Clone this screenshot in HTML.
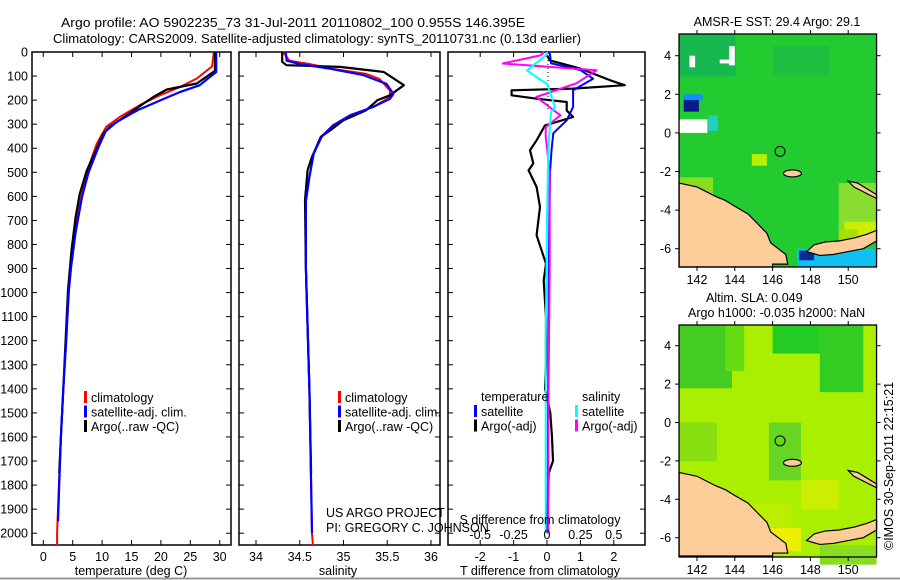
<!DOCTYPE html>
<html><head><meta charset="utf-8">
<style>
body{margin:0;background:#fff;}
svg{display:block;font-family:"Liberation Sans",sans-serif;}
text{fill:#000;}
</style></head>
<body>
<svg id="fig" width="900" height="580" viewBox="0 0 900 580" xmlns="http://www.w3.org/2000/svg">
<rect width="900" height="580" fill="#fff"/>
<line x1="0" y1="578.5" x2="900" y2="578.5" stroke="#999" stroke-width="2"/>
<text x="61" y="27" font-size="13" textLength="464" lengthAdjust="spacingAndGlyphs">Argo profile: AO 5902235_73 31-Jul-2011 20110802_100 0.955S 146.395E</text>
<text x="53" y="43" font-size="13" textLength="528" lengthAdjust="spacingAndGlyphs">Climatology: CARS2009. Satellite-adjusted climatology: synTS_20110731.nc (0.13d earlier)</text>
<g id="p1"></g>
<g id="p2"></g>
<g id="p3"></g>
<g id="m1"></g>
<g id="m2"></g>
<text x="326" y="517" font-size="12.5">US ARGO PROJECT</text>
<text x="326" y="532" font-size="12.5">PI: GREGORY C. JOHNSON</text>
<text x="777" y="26" font-size="12.5" text-anchor="middle">AMSR-E SST: 29.4  Argo: 29.1</text>
<text x="706" y="302" font-size="12.5">Altim. SLA: 0.049</text>
<text x="688" y="317" font-size="12.5">Argo h1000: -0.035 h2000: NaN</text>
<text x="0" y="0" font-size="12.5" transform="translate(893,550) rotate(-90)">©IMOS 30-Sep-2011  22:15:21</text>
</svg>
<script>
// ---- Temperature profiles (depth m, deg C) ----
const tClimDepth=[0,60,110,145,180,221,270,311,381,478,600,727,850,977,1200,1400,1600,1800,2000,2050];
const tClimVal=[29.0,28.7,26.1,23.3,19.8,16.4,13.0,10.7,9.1,7.7,6.5,5.4,4.9,4.4,3.9,3.4,3.0,2.65,2.35,2.35];
const tSatDepth=[0,83,138,166,200,240,290,330,400,500,600,750,900,1000,1200,1400,1600,1800,1950];
const tSatVal=[29.4,29.4,26.6,23.3,20.0,16.2,12.5,10.6,9.3,7.7,6.6,5.5,4.7,4.3,3.9,3.4,3.0,2.7,2.5];
const tArgoDepth=[0,78,131,156,187,215,263,311,339,401,492,589,686,825,990,1200,1400,1600,1750];
const tArgoVal=[29.2,29.2,26.1,21.0,18.7,17.0,14.2,11.3,10.2,9.1,7.4,6.2,5.5,4.8,4.2,3.8,3.4,3.0,2.7];
// ---- Salinity profiles ----
const sClimDepth=[0,36,50,70,91,112,160,188,228,263,305,353,422,520,620,900,1400,2000,2050];
const sClimVal=[34.31,34.38,34.61,34.87,35.26,35.41,35.53,35.53,35.34,35.07,34.88,34.74,34.66,34.61,34.57,34.57,34.61,34.64,34.65];
const sSatDepth=[0,36,50,70,95,132,174,195,228,263,305,353,422,520,620,900,1400,2000];
const sSatVal=[34.34,34.35,34.5,34.85,35.22,35.49,35.57,35.53,35.34,35.08,34.88,34.75,34.66,34.61,34.57,34.57,34.61,34.64];
const sArgoDepth=[0,41,55,62,83,138,180,200,242,284,325,353,436,491,616,900,1400,1750];
const sArgoVal=[34.30,34.30,34.35,34.96,35.46,35.69,35.53,35.39,35.26,35.0,34.85,34.74,34.64,34.59,34.56,34.57,34.61,34.63];
// ---- Differences ----
const dTArgoDepth=[0,14,35,69,118,138,152,159,180,194,208,243,270,305,367,408,463,492,561,644,762,880,950,1100,1300,1400,1500,1600,1700,1750,2000];
const dTArgoVal=[0,0,0.09,1.0,1.9,2.33,0.78,-1.06,-1.06,-0.31,0.59,0.59,0.78,-0.06,-0.31,-0.51,-0.41,-0.55,-0.31,-0.21,-0.31,-0.03,-0.1,-0.03,-0.03,-0.06,0.1,0.15,0.18,0.05,0];
const dTSatDepth=[0,10,47,75,111,159,228,284,338,400,500,700,1000,1500,2000];
const dTSatVal=[0.05,0.09,0.12,1.0,1.38,0.78,0.78,0.59,0.19,0.14,0.09,0.07,0.05,0.03,0.02];
const dSArgoDepth=[0,14,48,76,130,187,263,312,350,500,580,900,1500,2000];
const dSArgoVal=[-0.02,-0.05,-0.33,0.37,0.22,-0.08,0.1,-0.01,-0.01,0.02,0.02,0.02,0.01,0.01];
const dSSatDepth=[0,10,76,104,132,228,250,400,700,1200,2000];
const dSSatVal=[0.0,0.0,-0.15,-0.08,0,0.06,0.03,0.01,0,-0.01,-0.01];
const depthTicks=[0,100,200,300,400,500,600,700,800,900,1000,1100,1200,1300,1400,1500,1600,1700,1800,1900,2000];
const tTicks=[0,5,10,15,20,25,30];
const sTicks=[34,34.5,35,35.5,36];
const dTTicks=[-2,-1,0,1,2];
const dSTicks=[-0.5,-0.25,0,0.25,0.5];
const latTicks=[4,2,0,-2,-4,-6];
const lonTicks=[142,144,146,148,150];
const argoLon=146.395, argoLat=-0.955;

const NS="http://www.w3.org/2000/svg";
function mk(parent,tag,attrs,txt){const e=document.createElementNS(NS,tag);for(const k in attrs)e.setAttribute(k,attrs[k]);if(txt!==undefined)e.textContent=txt;parent.appendChild(e);return e;}
const TOP=52,BOT=545;
const yD=d=>TOP+d*0.2406;

function panel(g,x0,x1,xs,ticks,fmt,withY){
  mk(g,'rect',{x:x0,y:TOP,width:x1-x0,height:BOT-TOP,fill:'none',stroke:'#000','stroke-width':1.5});
  depthTicks.forEach(d=>{const y=yD(d);
    mk(g,'line',{x1:x0,x2:x0+5,y1:y,y2:y,stroke:'#000'});
    mk(g,'line',{x1:x1-5,x2:x1,y1:y,y2:y,stroke:'#000'});
    if(withY){const t=mk(g,'text',{x:x0-4,y:y+4.5,'font-size':12.5,'text-anchor':'end'},String(d));
      
      }
  });
  ticks.forEach(v=>{const x=xs(v);
    mk(g,'line',{x1:x,x2:x,y1:BOT-5,y2:BOT,stroke:'#000'});
    mk(g,'line',{x1:x,x2:x,y1:TOP,y2:TOP+5,stroke:'#000'});
    if(fmt){const t=mk(g,'text',{x:x,y:561,'font-size':12.5,'text-anchor':'middle'},fmt(v));
      
      }
  });
}
function line(g,xs,depths,vals,color,w,name){
  const pts=depths.map((d,i)=>xs(vals[i]).toFixed(1)+','+yD(d).toFixed(1)).join(' ');
  const p=mk(g,'polyline',{points:pts,fill:'none',stroke:color,'stroke-width':w,'stroke-linejoin':'round'});
  
  
}
function legend(g,x,y,items){
  items.forEach((it,i)=>{
    const r=mk(g,'rect',{x:x,y:y+i*14.5-6,width:3,height:12,fill:it[0]});
    
    
    const t=mk(g,'text',{x:x+7,y:y+i*14.5+5,'font-size':12.5},it[1]);
    
    
  });
}
// Panel 1
const g1=document.getElementById('p1');
const xT=v=>43.3+v*5.88;
panel(g1,32,231,xT,tTicks,v=>String(v),true);
line(g1,xT,tClimDepth,tClimVal,'#ff0000',2,'temp-climatology-line');
line(g1,xT,tArgoDepth,tArgoVal,'#000000',2.2,'temp-argo-line');
line(g1,xT,tSatDepth,tSatVal,'#0000ff',2.2,'temp-satellite-line');
{const t=mk(g1,'text',{x:131,y:575,'font-size':12.5,'text-anchor':'middle'},'temperature (deg C)');
}
legend(g1,84,397,[['#ff0000','climatology'],['#0000ff','satellite-adj. clim.'],['#000','Argo(..raw -QC)']]);
// Panel 2
const g2=document.getElementById('p2');
const xS=v=>256+(v-34)*87.5;
panel(g2,239,440,xS,sTicks,v=>String(v),false);
line(g2,xS,sClimDepth,sClimVal,'#ff0000',2,'sal-climatology-line');
line(g2,xS,sArgoDepth,sArgoVal,'#000000',2.2,'sal-argo-line');
line(g2,xS,sSatDepth,sSatVal,'#0000ff',2.2,'sal-satellite-line');
{const t=mk(g2,'text',{x:338,y:575,'font-size':12.5,'text-anchor':'middle'},'salinity');
}
legend(g2,338,397,[['#ff0000','climatology'],['#0000ff','satellite-adj. clim.'],['#000','Argo(..raw -QC)']]);
// Panel 3
const g3=document.getElementById('p3');
const xDT=v=>547+v*33.4;
const xDS=v=>547+v*133.6;
panel(g3,448,645,xDT,dTTicks,v=>String(v),false);
mk(g3,'line',{x1:548,x2:548,y1:TOP,y2:yD(250),stroke:'#000','stroke-dasharray':'1,3'});
line(g3,xDT,dTArgoDepth,dTArgoVal,'#000000',2.2,'t-diff-argo-line');
line(g3,xDT,dTSatDepth,dTSatVal,'#0000ff',2,'t-diff-satellite-line');
line(g3,xDS,dSArgoDepth,dSArgoVal,'#ff00ff',2,'s-diff-argo-line');
line(g3,xDS,dSSatDepth,dSSatVal,'#00ffff',2,'s-diff-satellite-line');
dSTicks.forEach(v=>{const t=mk(g3,'text',{x:xDS(v),y:539,'font-size':12.5,'text-anchor':'middle'},String(v));
});
{const t=mk(g3,'text',{x:540,y:524,'font-size':12.5,'text-anchor':'middle'},'S difference from climatology');
}
{const t=mk(g3,'text',{x:540,y:575,'font-size':12.5,'text-anchor':'middle'},'T difference from climatology');
}
{const t=mk(g3,'text',{x:481,y:401,'font-size':12.5},'temperature');
const t2=mk(g3,'text',{x:582,y:401,'font-size':12.5},'salinity');}
legend(g3,474,411,[['#0000ff','satellite'],['#000','Argo(-adj)']]);
legend(g3,575,411,[['#00ffff','satellite'],['#ff00ff','Argo(-adj)']]);

// Maps
const LON0=141.05,LON1=151.5;
function map(g,top,bot,lat4y,latm6y,base,patches,name){
  const pxLat=(lat4y-latm6y)/10; // negative
  const yL=la=>lat4y+(4-la)*(-pxLat)*(-1)*-1;
  const yLat=la=>lat4y+(4-la)*((latm6y-lat4y)/10);
  const xLon=lo=>697+(lo-142)*18.9;
  mk(g,'rect',{x:xLon(LON0),y:top,width:xLon(LON1)-xLon(LON0),height:bot-top,fill:base});
  patches.forEach(p=>{const r=mk(g,'rect',{x:xLon(p[0]),y:yLat(p[1]),width:p[2]*18.9,height:p[3]*19.3,fill:p[4]});
    });
  const land=[[141.05,-2.6],[142,-2.8],[143,-3.3],[143.5,-3.5],[144,-3.8],[144.7,-4.2],[145.2,-4.7],[145.7,-5.2],[145.9,-5.7],[146.3,-6.0],[146.7,-6.3],[146.8,-6.8],[146.0,-6.8],[146.0,-6.95],[141.05,-6.95]];
  const p1=mk(g,'polygon',{points:land.map(q=>xLon(q[0])+','+yLat(q[1])).join(' '),fill:'#fccc99',stroke:'#000','stroke-width':1.2});
  
  const nb=[[147.8,-6.15],[148.2,-5.8],[148.8,-5.65],[149.5,-5.6],[150.3,-5.45],[151.0,-5.25],[151.5,-5.05],[151.5,-5.6],[150.8,-6.0],[150,-6.15],[149.2,-6.3],[148.5,-6.35]];
  const p2=mk(g,'polygon',{points:nb.map(q=>xLon(q[0])+','+yLat(q[1])).join(' '),fill:'#fccc99',stroke:'#000','stroke-width':1.2});
  
  const ni=[[150.0,-2.5],[150.5,-2.6],[151.0,-2.9],[151.5,-3.2],[151.5,-3.4],[150.9,-3.1],[150.3,-2.8]];
  const p3=mk(g,'polygon',{points:ni.map(q=>xLon(q[0])+','+yLat(q[1])).join(' '),fill:'#fccc99',stroke:'#000','stroke-width':1.2});
  
  const mi=mk(g,'ellipse',{cx:xLon(147.05),cy:yLat(-2.1),rx:9,ry:3.5,fill:'#fccc99',stroke:'#000','stroke-width':1.2});
  
  const c=mk(g,'circle',{cx:xLon(argoLon),cy:yLat(argoLat),r:5,fill:'none',stroke:'#000'});
  
  mk(g,'rect',{x:xLon(LON0),y:top,width:xLon(LON1)-xLon(LON0),height:bot-top,fill:'none',stroke:'#000','stroke-width':1.3});
  latTicks.forEach(la=>{const y=yLat(la);
    mk(g,'line',{x1:xLon(LON0)-4,x2:xLon(LON0),y1:y,y2:y,stroke:'#000'});
    mk(g,'line',{x1:xLon(LON1),x2:xLon(LON1)+4,y1:y,y2:y,stroke:'#000'});
    const t=mk(g,'text',{x:xLon(LON0)-8,y:y+4.5,'font-size':12.5,'text-anchor':'end'},String(la));
    });
  lonTicks.forEach(lo=>{const x=xLon(lo);
    mk(g,'line',{x1:x,x2:x,y1:bot,y2:bot+4,stroke:'#000'});
    mk(g,'line',{x1:x,x2:x,y1:top-4,y2:top,stroke:'#000'});
    const t=mk(g,'text',{x:x,y:bot+17,'font-size':12.5,'text-anchor':'middle'},String(lo));
    });
}
map(document.getElementById('m1'),34,267,55.7,248.7,'#22cc30',[
 [141.05,5.12,3,2.2,'#18b850'],[146,4.5,3,1.5,'#1dc040'],[141.05,-2.3,1.8,0.9,'#88dd20'],[144.9,-1.1,0.8,0.6,'#bbee00'],
 [141.6,4.0,0.3,0.6,'#ffffff'],[143.7,4.5,0.3,1.0,'#ffffff'],[143.2,3.8,0.7,0.2,'#ffffff'],
 [141.3,1.8,0.8,0.7,'#0a1a8a'],[141.3,2.0,1.0,0.3,'#1090ff'],[141.05,0.7,1.5,0.7,'#ffffff'],[142.6,0.9,0.5,0.8,'#20d0c0'],
 [149.5,-2.6,2,3,'#88dd30'],[149.8,-4.6,1.7,0.8,'#ccee00'],[147.3,-6.0,4.2,0.95,'#10c0f0'],[147.4,-6.1,0.8,0.5,'#0a2a9a'],[149.5,-5.0,1,0.6,'#aadd00']
],'sst');
map(document.getElementById('m2'),325,557,345.7,537.7,'#aaee00',[
 [141.05,5.1,2.8,3.3,'#44cc22'],[143.5,5.1,1,2.4,'#66dd11'],[146,5.1,2.5,1.5,'#22cc22'],[148.5,5.1,2.3,3.5,'#33cc22'],
 [145.8,0,1.7,3,'#66d622'],[141.05,0,2,2,'#88e010'],[147.5,-3,2,1.5,'#ccee00'],[144,-4.2,3,1.6,'#bbee00'],[145.5,-5.5,2,1.2,'#eeee00'],[148.5,-6.4,3,1.0,'#88dd20']
],'sla');
</script>
</body></html>
